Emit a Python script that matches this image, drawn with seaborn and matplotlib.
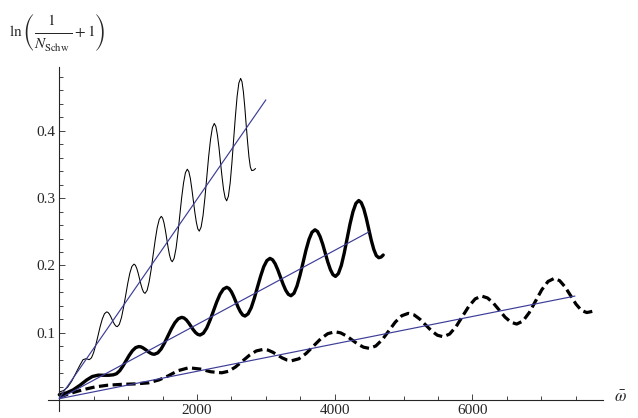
import matplotlib
matplotlib.use("Agg")
import matplotlib.pyplot as plt
import seaborn as sns
import pandas as pd

# values
thin_x = [0, 60, 120, 180, 240, 300, 345, 390, 435,
          467, 498, 530, 562, 593, 625, 656, 688,
          707, 727, 746, 765, 784, 804, 823, 842,
          872, 903, 933, 964, 994, 1024, 1054, 1085,
          1105, 1125, 1145, 1165, 1185, 1205, 1225, 1245,
          1275, 1304, 1334, 1363, 1393, 1422, 1452, 1481,
          1501, 1521, 1541, 1561, 1581, 1601, 1621, 1641,
          1668, 1696, 1723, 1750, 1777, 1805, 1832, 1859,
          1881, 1903, 1924, 1946, 1968, 1990, 2011, 2033,
          2060, 2088, 2115, 2142, 2169, 2197, 2224, 2251,
          2274, 2296, 2319, 2341, 2364, 2386, 2409, 2431,
          2456, 2482, 2507, 2532, 2558, 2583, 2608, 2634,
          2654, 2674, 2694, 2714, 2735, 2755, 2775, 2795,
          2822, 2850]
thin_y = [0.012, 0.014, 0.019, 0.028, 0.040, 0.052, 0.060, 0.0615, 0.060,
          0.0627, 0.0704, 0.0819, 0.0955, 0.1091, 0.1206, 0.1283, 0.131,
          0.1302, 0.1278, 0.1242, 0.120, 0.1158, 0.1122, 0.1098, 0.109,
          0.1125, 0.1226, 0.1377, 0.1555, 0.1733, 0.1884, 0.1985, 0.202,
          0.2003, 0.1956, 0.1886, 0.1803, 0.1719, 0.1649, 0.1602, 0.1585,
          0.1629, 0.1753, 0.1938, 0.2158, 0.2377, 0.2562, 0.2686, 0.273,
          0.2704, 0.2631, 0.2522, 0.2393, 0.2263, 0.2154, 0.2081, 0.2055,
          0.2107, 0.2256, 0.2479, 0.2743, 0.3006, 0.3229, 0.3378, 0.343,
          0.3395, 0.3295, 0.3146, 0.297, 0.2794, 0.2645, 0.2545, 0.251,
          0.2571, 0.2744, 0.3004, 0.331, 0.3616, 0.3876, 0.4049, 0.411,
          0.4066, 0.3942, 0.3755, 0.3535, 0.3315, 0.3128, 0.3004, 0.296,
          0.3029, 0.3226, 0.3522, 0.387, 0.4218, 0.4514, 0.4711, 0.478,
          0.4728, 0.4579, 0.4357, 0.4095, 0.3833, 0.3611, 0.3462, 0.341,
          0.3415, 0.344]

thick_x = [0, 100, 200, 300, 400, 480, 566, 650, 720, 785,
           831, 878, 924, 970, 1016, 1063, 1109, 1155,
           1183, 1211, 1239, 1268, 1296, 1324, 1352, 1380,
           1430, 1480, 1529, 1579, 1629, 1679, 1728, 1778,
           1811, 1845, 1878, 1911, 1944, 1978, 2011, 2044,
           2092, 2141, 2189, 2238, 2286, 2334, 2383, 2431,
           2464, 2498, 2531, 2564, 2597, 2631, 2664, 2697,
           2742, 2788, 2833, 2878, 2924, 2969, 3015, 3060,
           3098, 3136, 3174, 3212, 3251, 3289, 3327, 3365,
           3409, 3452, 3496, 3540, 3583, 3627, 3670, 3714,
           3751, 3788, 3826, 3863, 3900, 3938, 3975, 4012,
           4054, 4097, 4139, 4181, 4223, 4266, 4308, 4350,
           4386, 4423, 4459, 4495, 4531, 4568, 4604, 4640,
           4675, 4705]
thick_y = [0.008, 0.0105, 0.015, 0.022, 0.030, 0.035, 0.037, 0.0368, 0.0368, 0.0375,
           0.0391, 0.0436, 0.0505, 0.0585, 0.0665, 0.0734, 0.0779, 0.0795,
           0.0791, 0.0778, 0.0759, 0.0738, 0.0715, 0.0697, 0.0684, 0.068,
           0.0701, 0.076, 0.0849, 0.0955, 0.106, 0.1149, 0.1208, 0.1229,
           0.1219, 0.1191, 0.1148, 0.1098, 0.1047, 0.1004, 0.0976, 0.0966,
           0.0993, 0.107, 0.1185, 0.1321, 0.1456, 0.1571, 0.1648, 0.1675,
           0.1659, 0.1612, 0.1543, 0.1462, 0.138, 0.1311, 0.1264, 0.1248,
           0.1281, 0.1373, 0.1513, 0.1677, 0.184, 0.198, 0.2072, 0.2105,
           0.2084, 0.2024, 0.1934, 0.1828, 0.1721, 0.1631, 0.1571, 0.155,
           0.1587, 0.1693, 0.1853, 0.204, 0.2227, 0.2387, 0.2493, 0.253,
           0.2504, 0.2429, 0.2316, 0.2184, 0.2051, 0.1938, 0.1863, 0.1837,
           0.188, 0.2002, 0.2185, 0.2401, 0.2617, 0.28, 0.2922, 0.2965,
           0.2933, 0.2841, 0.2703, 0.254, 0.2377, 0.2239, 0.2147, 0.2115,
           0.2125, 0.2155]

dash_x = [0, 100, 228, 370, 520, 700, 906, 1100, 1293, 1450, 1583, 1720, 1880, 2050, 2200,
          2359, 2460, 2560, 2661, 2762, 2862, 2963, 3032, 3100, 3169, 3238, 3306, 3375, 3480,
          3585, 3690, 3794, 3899, 4004, 4087, 4170, 4254, 4337, 4420, 4503, 4597, 4692, 4786,
          4880, 4975, 5069, 5154, 5238, 5323, 5408, 5492, 5577, 5670, 5763, 5856, 5949, 6042,
          6135, 6220, 6305, 6390, 6474, 6559, 6644, 6735, 6826, 6917, 7008, 7099, 7190, 7268,
          7347, 7426, 7504, 7582, 7661, 7710, 7757]
dash_y = [0.004, 0.008, 0.012, 0.016, 0.0195, 0.022, 0.0233, 0.024, 0.0255, 0.030, 0.036,
          0.0435, 0.048, 0.046, 0.042, 0.0405, 0.0428, 0.0492, 0.0579, 0.0666, 0.073, 0.0753,
          0.0742, 0.0711, 0.0669, 0.0626, 0.0595, 0.0584, 0.0613, 0.0692, 0.08, 0.0907,
          0.0986, 0.1015, 0.0998, 0.0953, 0.0892, 0.083, 0.0785, 0.0768, 0.0803, 0.0898,
          0.1028, 0.1158, 0.1253, 0.1288, 0.1265, 0.1201, 0.1114, 0.1027, 0.0963, 0.094,
          0.0981, 0.1091, 0.1243, 0.1394, 0.1504, 0.1545, 0.1517, 0.1441, 0.1337, 0.1233,
          0.1157, 0.1129, 0.1174, 0.1299, 0.1469, 0.1638, 0.1762, 0.1808, 0.1774, 0.1681,
          0.1554, 0.1427, 0.1334, 0.130, 0.131, 0.1322]

# straight fits (blue)
fit_thin_x, fit_thin_y = [0, 3000], [0.003, 0.446]
fit_thick_x, fit_thick_y = [0, 4500], [0.002, 0.250]
fit_dash_x, fit_dash_y = [0, 7490], [0.002, 0.1545]

x_major = [2000, 4000, 6000]
y_major = [0.1, 0.2, 0.3, 0.4]
x_minor = [500 * i for i in range(1, 16)]
y_minor = [0.02 * i for i in range(1, 25)]

sns.set_style("ticks")
plt.rcParams["font.family"] = ["Liberation Serif", "DejaVu Serif"]
plt.rcParams["mathtext.fontset"] = "stix"

fig = plt.figure(figsize=(6.38, 4.18), dpi=100)
ax = fig.add_axes([0.0757, 0.0172, 0.8697, 0.8227])

blue = "#3d3d99"
curves = [
    (thin_x, thin_y, dict(color="black", lw=0.75)),
    (thick_x, thick_y, dict(color="black", lw=2.4)),
    (dash_x, dash_y, dict(color="black", lw=2.3, ls=(0, (2.9, 1.4)))),
]
for xs, ys, kw in curves:
    df = pd.DataFrame({"w": xs, "v": ys})
    sns.lineplot(data=df, x="w", y="v", ax=ax, sort=False, estimator=None,
                 solid_joinstyle="round", dash_joinstyle="round", zorder=2, **kw)

for xs, ys in [(fit_thin_x, fit_thin_y), (fit_thick_x, fit_thick_y), (fit_dash_x, fit_dash_y)]:
    df = pd.DataFrame({"w": xs, "v": ys})
    sns.lineplot(data=df, x="w", y="v", ax=ax, sort=False, estimator=None,
                 color=blue, lw=0.85, zorder=3)

ax.set_xlim(-160, 7900)
ax.set_ylim(-0.016, 0.495)
ax.spines["left"].set_position(("data", 0))
ax.spines["bottom"].set_position(("data", 0))
ax.spines["right"].set_visible(False)
ax.spines["top"].set_visible(False)
for s in ("left", "bottom"):
    ax.spines[s].set_linewidth(0.8)

ax.set_xticks(x_major)
ax.set_xticklabels([str(v) for v in x_major])
ax.set_yticks(y_major)
ax.set_yticklabels([f"{v:.1f}" for v in y_major])
ax.set_xticks(x_minor, minor=True)
ax.set_yticks(y_minor, minor=True)
ax.tick_params(which="major", direction="in", length=4.5, width=0.6, labelsize=11)
ax.tick_params(which="minor", direction="in", length=2.9, width=0.6)
ax.tick_params(axis="x", which="major", pad=3)
ax.tick_params(axis="y", which="major", pad=2.5)
ax.set_xlabel("")
ax.set_ylabel("")

fig.text(620 / 638, 1 - 398 / 418, r"$\bar{\omega}$", fontsize=12, ha="center", va="center")
ylab = (r"$\ln\left(\dfrac{\genfrac{}{}{0}{0}{1}{\,}}"
        r"{\genfrac{}{}{0}{0}{\,}{N_{\mathrm{Schw}}}}+1\right)$")
fig.text(57 / 638, 1 - 33 / 418, ylab, fontsize=11, ha="center", va="center")

fig.savefig("out.png", dpi=100)
